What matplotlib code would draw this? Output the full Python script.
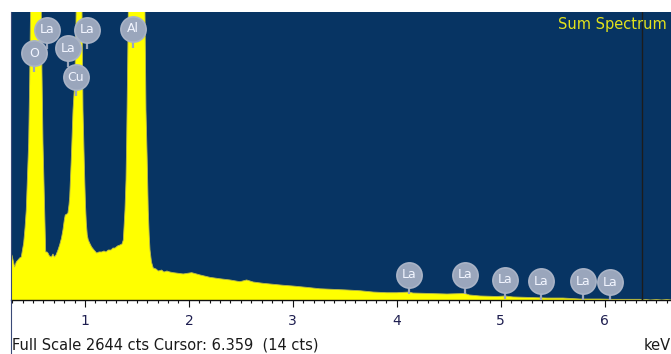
import matplotlib
matplotlib.use("Agg")
import matplotlib.pyplot as plt
from matplotlib.lines import Line2D

# spectrum (keV, counts); peaks are clipped at full scale
energy_kev = [0.288, 0.297, 0.312, 0.323, 0.339, 0.355, 0.372, 0.387, 0.398, 0.410,
              0.423, 0.435, 0.447, 0.458, 0.468, 0.477, 0.490, 0.528, 0.567, 0.579,
              0.586, 0.596, 0.605, 0.612, 0.618, 0.622, 0.634, 0.644, 0.658, 0.676,
              0.692, 0.706, 0.721, 0.740, 0.756, 0.774, 0.788, 0.801, 0.810, 0.827,
              0.836, 0.846, 0.853, 0.860, 0.868, 0.877, 0.885, 0.894, 0.901, 0.909,
              0.916, 0.942, 0.971, 0.981, 0.990, 0.997, 1.005, 1.013, 1.022, 1.032,
              1.045, 1.064, 1.087, 1.113, 1.135, 1.161, 1.183, 1.202, 1.224, 1.250,
              1.269, 1.289, 1.313, 1.337, 1.356, 1.369, 1.377, 1.385, 1.395, 1.401,
              1.409, 1.417, 1.496, 1.577, 1.587, 1.599, 1.609, 1.618, 1.626, 1.640,
              1.657, 1.683, 1.707, 1.738, 1.760, 1.789, 1.818, 1.850, 1.946, 2.027,
              2.107, 2.203, 2.299, 2.396, 2.492, 2.556, 2.620, 2.716, 2.812, 2.909,
              3.005, 3.134, 3.262, 3.390, 3.519, 3.647, 3.775, 3.904, 4.000, 4.118,
              4.157, 4.320, 4.484, 4.657, 4.700, 4.802, 4.965, 5.042, 5.119, 5.283,
              5.447, 5.600, 5.764, 5.957, 6.082, 6.342, 6.360, 6.400, 6.440, 6.500,
              6.550, 6.600, 6.640]
counts = [413, 413, 349, 303, 349, 367, 386, 395, 459, 523,
          661, 826, 1148, 1441, 2020, 2700, 4500, 7000, 4500, 2700,
          2100, 1441, 1102, 826, 597, 441, 441, 431, 404, 395,
          422, 395, 413, 459, 505, 569, 643, 734, 780, 790,
          799, 872, 946, 1102, 1285, 1515, 1744, 1882, 1992, 2295,
          2700, 4500, 2700, 1744, 1377, 1129, 872, 707, 597, 551,
          523, 487, 459, 431, 441, 441, 450, 441, 459, 459,
          477, 477, 496, 505, 514, 551, 689, 826, 1102, 1441,
          2020, 2700, 6000, 2700, 1744, 1285, 826, 597, 459, 349,
          294, 285, 266, 275, 257, 266, 257, 251, 239, 251,
          230, 208, 195, 184, 168, 184, 165, 153, 144, 135,
          128, 116, 103, 98, 92, 85, 73, 67, 67, 73,
          64, 60, 55, 60, 46, 37, 32, 37, 28, 23,
          18, 18, 9, 9, 6, 6, 0, 4, 0, 4,
          0, 4, 0]

# peak labels (element, keV, label height in counts)
label_names = ["La", "O", "La", "Cu", "La", "Al",
               "La", "La", "La", "La", "La", "La"]
label_kev = [0.634, 0.509, 0.836, 0.913, 1.019, 1.462,
             4.118, 4.657, 5.042, 5.389, 5.793, 6.053]
label_cts = [2479, 2267, 2313, 2047, 2479, 2488,
             230, 230, 184, 174, 174, 165]

full_scale = 2644
cursor_kev = 6.359

W, H = 671, 354
fig = plt.figure(figsize=(W / 100, H / 100), dpi=100)
ax = fig.add_axes([11 / W, 54 / H, 660 / W, 288 / H])
ax.set_facecolor("#073463")

ax.fill_between(energy_kev, counts, 0, color="#ffff00", linewidth=0, zorder=2)
ax.plot(energy_kev, counts, color="#b9b94a", linewidth=0.6, zorder=3)

ax.set_xlim(0.288, 6.640)
ax.set_ylim(0, full_scale)

# cursor line
ax.axvline(cursor_kev, color="#1c1c1c", linewidth=1.0, zorder=4)

# peak markers
px_to_cts = full_scale / 288.0
for name, xk, yc in zip(label_names, label_kev, label_cts):
    ax.plot([xk, xk], [yc, yc - 19 * px_to_cts], color="#9aa6bc",
            linewidth=1.6, solid_capstyle="butt", zorder=5)
    ax.scatter([xk], [yc], s=330, color="#9aa6bc", edgecolors="#a9b3c6",
               linewidths=1.2, zorder=6)
    ax.text(xk, yc, name, color="#f2f5ff", fontsize=9, ha="center",
            va="center", zorder=7)

ax.text(0.993, 0.955, "Sum Spectrum", transform=ax.transAxes, color="#e2e21c",
        fontsize=10.5, ha="right", va="center", zorder=8)

# axis styling
for side in ["top", "right", "left"]:
    ax.spines[side].set_visible(False)
ax.spines["bottom"].set_color("#111111")
ax.spines["bottom"].set_linewidth(1.0)
ax.set_yticks([])
ax.set_xticks([1, 2, 3, 4, 5, 6])
ax.set_xticks([i / 10 for i in range(3, 67) if i % 10 != 0], minor=True)
ax.tick_params(axis="x", which="major", length=5, width=0.8, color="#111111",
               pad=5, labelsize=10, labelcolor="#1e1e50")
ax.tick_params(axis="x", which="minor", length=2.5, width=0.8, color="#111111")

fig.text(12 / W, 1 - 345 / H, "Full Scale 2644 cts Cursor: 6.359  (14 cts)",
         fontsize=10.5, color="#1a1a1a", ha="left", va="center")
fig.text(1.0, 1 - 345 / H, "keV", fontsize=10.5, color="#1a1a1a",
         ha="right", va="center")

fig.add_artist(Line2D([11 / W, 11 / W], [0, 1 - 12 / H], color="#3a4a78",
                      linewidth=0.8))

fig.savefig("out.png", dpi=100, facecolor="white")
